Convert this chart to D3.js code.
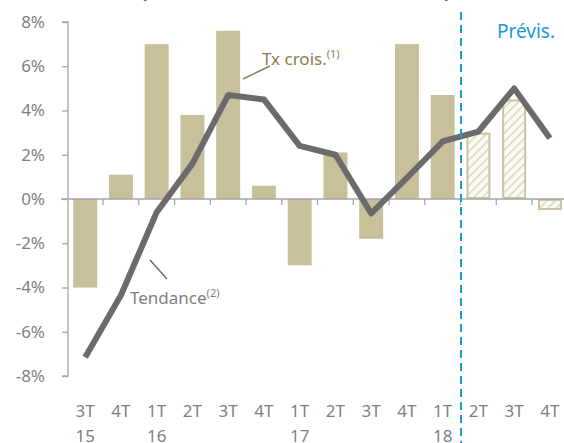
<!DOCTYPE html>
<html>
<head>
<meta charset="utf-8">
<script src="https://cdn.jsdelivr.net/npm/d3@7"></script>
<style>
  body { margin: 0; background: #fff; }
  svg text { font-family: "Noto Sans", sans-serif; }
</style>
</head>
<body>
<div id="chart"></div>
<script>
// quarters and year labels
var quarters = ["3T", "4T", "1T", "2T", "3T", "4T", "1T", "2T", "3T", "4T", "1T", "2T", "3T", "4T"];
var years = ["15", "", "16", "", "", "", "17", "", "", "", "18", "", "", ""];
// growth rate (%), last three are forecasts
var growth = [-4.0, 1.1, 7.0, 3.8, 7.6, 0.6, -3.0, 2.1, -1.8, 7.0, 4.7, 3.0, 4.5, -0.5];
var forecast = [false, false, false, false, false, false, false, false, false, false, false, true, true, true];
// trend (%)
var trend = [-7.15, -4.35, -0.6, 1.6, 4.7, 4.5, 2.4, 2.0, -0.65, 0.95, 2.6, 3.05, 5.0, 2.75];
var yTicks = [8, 6, 4, 2, 0, -2, -4, -6, -8];

var width = 564, height = 443;
var svg = d3.select("#chart").append("svg")
    .attr("width", width)
    .attr("height", height);

var idx = d3.range(quarters.length);
var x = d3.scaleBand().domain(idx).range([67.3, 67.3 + 14 * 35.75]);
var y = d3.scaleLinear().domain([-8, 8]).range([376, 22]);
var barW = x.bandwidth() * 0.67;

// hatch pattern for forecasts
var pat = svg.append("defs").append("pattern")
    .attr("id", "hatch")
    .attr("patternUnits", "userSpaceOnUse")
    .attr("width", 6).attr("height", 6)
    .attr("patternTransform", "rotate(45)");
pat.append("rect").attr("width", 6).attr("height", 6).attr("fill", "#fbfaf5");
pat.append("line").attr("x1", 0).attr("y1", 0).attr("x2", 0).attr("y2", 6)
    .attr("stroke", "#d8d0b0").attr("stroke-width", 2.5);

// title remnants (cut at top)
svg.append("text").attr("x", 140).attr("y", -3).attr("font-size", 22)
    .attr("font-weight", "bold").attr("fill", "#1f3e78").text("(");
svg.append("text").attr("x", 444).attr("y", -3).attr("font-size", 22)
    .attr("font-weight", "bold").attr("fill", "#1f3e78").text(")");

// bars
svg.selectAll(".bar").data(idx).enter().append("rect")
    .attr("x", function (i) { return x(i) + (x.bandwidth() - barW) / 2 + (forecast[i] ? 1 : 0); })
    .attr("width", function (i) { return forecast[i] ? barW - 2 : barW; })
    .attr("y", function (i) { return y(Math.max(0, growth[i])) + (forecast[i] ? 1 : 0); })
    .attr("height", function (i) { return Math.abs(y(growth[i]) - y(0)) - (forecast[i] ? 2 : 0); })
    .attr("fill", function (i) { return forecast[i] ? "url(#hatch)" : "#c8bf9b"; })
    .attr("stroke", function (i) { return forecast[i] ? "#cbc29f" : "none"; })
    .attr("stroke-width", 2);

// y axis
var yAxis = d3.axisLeft(y).tickValues(yTicks).tickSize(6).tickPadding(17)
    .tickFormat(function (d) { return d + "%"; });
var yg = svg.append("g").attr("transform", "translate(68,0)").call(yAxis);
yg.select(".domain").attr("stroke", "#a6a6a6").attr("stroke-width", 1.3).attr("d", "M-6,22H0V376H-6");
yg.selectAll(".tick line").attr("stroke", "#a6a6a6").attr("stroke-width", 1.3);
yg.selectAll(".tick text").attr("fill", "#7f7f7f").attr("font-size", 17)
    .attr("font-family", "Noto Sans, sans-serif");

// x axis at 0 with ticks at band boundaries
var xg = svg.append("g");
xg.append("line").attr("x1", 61).attr("x2", width).attr("y1", y(0)).attr("y2", y(0))
    .attr("stroke", "#a6a6a6").attr("stroke-width", 1.3);
xg.selectAll(".xt").data(idx.slice(1).concat([14])).enter().append("line")
    .attr("x1", function (i) { return i < 14 ? x(i) : x.range()[1]; })
    .attr("x2", function (i) { return i < 14 ? x(i) : x.range()[1]; })
    .attr("y1", y(0)).attr("y2", y(0) + 6)
    .attr("stroke", "#a6a6a6").attr("stroke-width", 1.3);

// x labels
svg.selectAll(".ql").data(idx).enter().append("text")
    .attr("x", function (i) { return x(i) + x.bandwidth() / 2; })
    .attr("y", 417)
    .attr("text-anchor", "middle")
    .attr("font-size", 17).attr("fill", "#7f7f7f")
    .text(function (i) { return quarters[i]; });
svg.selectAll(".yl").data(idx).enter().append("text")
    .attr("x", function (i) { return x(i) + x.bandwidth() / 2; })
    .attr("y", 442)
    .attr("text-anchor", "middle")
    .attr("font-size", 17).attr("fill", "#7f7f7f")
    .text(function (i) { return years[i]; });

// trend line
var line = d3.line()
    .x(function (d, i) { return x(i) + x.bandwidth() / 2; })
    .y(function (d) { return y(d); });
svg.append("path").datum(trend)
    .attr("d", line)
    .attr("fill", "none")
    .attr("stroke", "#6b6b6b")
    .attr("stroke-width", 6)
    .attr("stroke-linejoin", "round");

// forecast divider
svg.append("line").attr("x1", 461).attr("x2", 461).attr("y1", 12).attr("y2", height)
    .attr("stroke", "#1a9ad6").attr("stroke-width", 2).attr("stroke-dasharray", "8,5");
svg.append("text").attr("x", 497).attr("y", 38).attr("font-size", 19)
    .attr("fill", "#1a9ad6").text("Prévis.");

// annotations
svg.append("line").attr("x1", 243).attr("y1", 79).attr("x2", 270).attr("y2", 66)
    .attr("stroke", "#8c7e4c").attr("stroke-width", 1.5);
var t1 = svg.append("text").attr("x", 262).attr("y", 65).attr("font-size", 17).attr("fill", "#8c7e4c");
t1.append("tspan").text("Tx crois.");
t1.append("tspan").attr("font-size", 11).attr("dy", -7).text("(1)");

svg.append("line").attr("x1", 150).attr("y1", 260).attr("x2", 167).attr("y2", 279)
    .attr("stroke", "#6b6b6b").attr("stroke-width", 1.5);
var t2 = svg.append("text").attr("x", 130).attr("y", 304).attr("font-size", 17).attr("fill", "#7f7f7f");
t2.append("tspan").text("Tendance");
t2.append("tspan").attr("font-size", 11).attr("dy", -7).text("(2)");
</script>
</body>
</html>
